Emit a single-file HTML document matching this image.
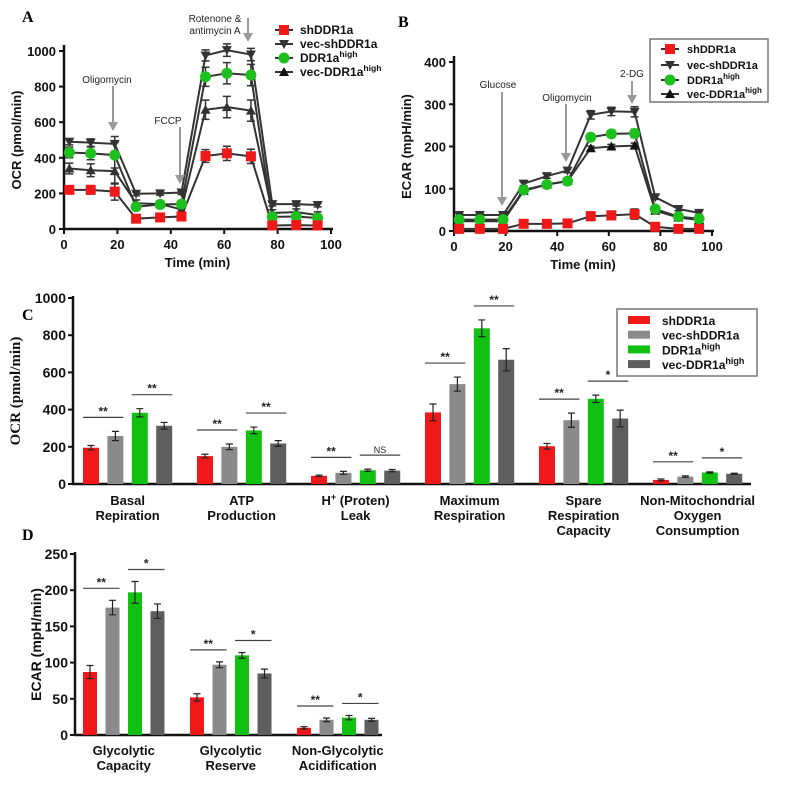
<!DOCTYPE html>
<html><head><meta charset="utf-8">
<style>
body{margin:0;background:#fff;}
svg{display:block;font-family:"Liberation Sans",Arial,sans-serif;}
.tk{font-size:13px;font-weight:bold;fill:#111;}
.ann{font-size:10px;fill:#222;}
.lbl{font-family:"Liberation Serif",serif;font-weight:bold;font-size:16px;}
</style></head>
<body>
<svg id="fig" width="787" height="786" viewBox="0 0 787 786" xmlns="http://www.w3.org/2000/svg"></svg>
<script>
// ---------- data ----------
const seriesNames = ["shDDR1a","vec-shDDR1a","DDR1a","vec-DDR1a"];
const timeA = [2,10,19,27,36,44,53,61,70,78,87,95];
const ocrSh = [220,220,210,58,65,70,410,425,408,20,22,20];
const ocrVecSh = [490,485,478,198,200,205,975,1005,980,140,140,135];
const ocrHigh = [430,425,415,125,138,140,855,875,865,68,70,62];
const ocrVecHigh = [340,330,325,145,140,110,670,685,665,90,95,78];
const ocrErr = [25,30,60,15,15,15,45,50,50,15,15,15];
const timeB = [2,10,19,27,36,44,53,61,70,78,87,95];
const ecarSh = [5,5,5,17,17,18,35,37,40,10,5,5];
const ecarVecSh = [38,38,38,112,130,143,275,283,282,80,52,43];
const ecarHigh = [27,27,27,97,110,118,222,230,231,52,34,29];
const ecarVecHigh = [23,23,23,95,110,118,196,200,202,48,32,26];
const ecarErr = [4,4,4,5,5,5,10,10,12,5,4,4];
const catsC = [["Basal","Repiration"],["ATP","Production"],["H+ (Proten)","Leak"],["Maximum","Respiration"],["Spare","Respiration","Capacity"],["Non-Mitochondrial","Oxygen","Consumption"]];
const cSh = [195,150,44,385,203,22];
const cVecSh = [258,200,60,537,343,40];
const cHigh = [383,288,74,837,458,62];
const cVecHigh = [313,218,72,668,352,55];
const cErrSh = [12,10,4,45,15,5];
const cErrVecSh = [25,15,8,38,38,4];
const cErrHigh = [22,18,6,45,20,3];
const cErrVecHigh = [18,15,6,60,45,3];
const cSig1 = ["**","**","**","**","**","**"];
const cSig2 = ["**","**","NS","**","*","*"];
const ticksC = [0,200,400,600,800,1000];
const catsD = [["Glycolytic","Capacity"],["Glycolytic","Reserve"],["Non-Glycolytic","Acidification"]];
const dSh = [87,52,10];
const dVecSh = [176,97,21];
const dHigh = [197,110,24];
const dVecHigh = [171,85,21];
const dErrSh = [9,5,1.5];
const dErrVecSh = [10,4,2.5];
const dErrHigh = [15,4,3];
const dErrVecHigh = [10,6,2];
const dSig1 = ["**","**","**"];
const dSig2 = ["*","*","*"];
const ticksD = [0,50,100,150,200,250];
const ticksA = [0,200,400,600,800,1000];
const ticksB = [0,100,200,300,400];
const ticksX = [0,20,40,60,80,100];

const NS="http://www.w3.org/2000/svg";
const svg=document.getElementById('fig');
function el(tag,attrs,parent,text){const e=document.createElementNS(NS,tag);for(const k in attrs)e.setAttribute(k,attrs[k]);if(text!==undefined)e.textContent=text;(parent||svg).appendChild(e);return e;}
function grp(name){const g=el('g',{});


return g;}

function marker(g,type,x,y,color){
  let m;
  if(type==='sq') m=el('rect',{x:x-5,y:y-5,width:10,height:10,fill:color},g);
  else if(type==='ci') m=el('circle',{cx:x,cy:y,r:5.5,fill:color},g);
  else if(type==='dn') m=el('polygon',{points:`${x-5},${y-4} ${x+5},${y-4} ${x},${y+5}`,fill:color},g);
  else m=el('polygon',{points:`${x-5},${y+4} ${x+5},${y+4} ${x},${y-5}`,fill:color},g);
  
  
}

function lineChart(name,x0,x1,y0,y1,ymax,yticks,series,errs,times,title){
  const g=grp(name);
  const sx=t=>x0+(x1-x0)*t/100, sy=v=>y0-(y0-y1)*v/ymax;
  el('line',{x1:x0,y1:y0+1,x2:x0,y2:y1-6,stroke:'#111','stroke-width':2.5},g);
  el('line',{x1:x0-1,y1:y0,x2:x1+2,y2:y0,stroke:'#111','stroke-width':2.5},g);
  yticks.forEach(t=>{el('line',{x1:x0-5,x2:x0,y1:sy(t),y2:sy(t),stroke:'#111','stroke-width':2},g);
    el('text',{x:x0-8,y:sy(t)+5,'text-anchor':'end',class:'tk'},g,t);});
  ticksX.forEach(t=>{el('line',{x1:sx(t),x2:sx(t),y1:y0,y2:y0+5,stroke:'#111','stroke-width':2},g);
    el('text',{x:sx(t),y:y0+20,'text-anchor':'middle',class:'tk'},g,t);});
  el('text',{x:(x0+x1)/2,y:y0+38,'text-anchor':'middle',class:'tk'},g,'Time (min)');
  el('text',{x:0,y:0,'text-anchor':'middle',class:'tk',transform:`translate(${x0-43},${(y0+y1)/2}) rotate(-90)`},g,title);
  series.forEach(s=>{
    const pts=s.vals.map((v,i)=>sx(times[i])+','+sy(v)).join(' ');
    el('polyline',{points:pts,fill:'none',stroke:'#333','stroke-width':2},g);
    s.vals.forEach((v,i)=>{const e=errs[i]*s.ef;const x=sx(times[i]);
      el('path',{d:`M${x},${sy(v-e)}V${sy(v+e)}M${x-4},${sy(v-e)}h8M${x-4},${sy(v+e)}h8`,stroke:'#333','stroke-width':1.5,fill:'none'},g);});
  });
  series.forEach(s=>s.vals.forEach((v,i)=>marker(g,s.m,sx(times[i]),sy(v),s.c)));
  return g;
}
const RED='#f01818',GR='#1ec01e',DK='#333';
lineChart('panel-a-ocr-chart',64,331,229,51,1000,ticksA,[
 {vals:ocrVecHigh,m:'up',c:DK,ef:1.2},{vals:ocrVecSh,m:'dn',c:DK,ef:0.7},{vals:ocrHigh,m:'ci',c:GR,ef:1.2},{vals:ocrSh,m:'sq',c:RED,ef:0.8}],ocrErr,timeA,'OCR (pmol/min)');
lineChart('panel-b-ecar-chart',454,712,231,62,400,ticksB,[
 {vals:ecarVecHigh,m:'up',c:'#111',ef:0.5},{vals:ecarVecSh,m:'dn',c:DK,ef:1},{vals:ecarHigh,m:'ci',c:GR,ef:0.8},{vals:ecarSh,m:'sq',c:RED,ef:1}],ecarErr,timeB,'ECAR (mpH/min)');

function arrow(x,ya,yb,g){el('line',{x1:x,y1:ya,x2:x,y2:yb-7,stroke:'#999','stroke-width':2},g);
  el('polygon',{points:`${x-5},${yb-9} ${x+5},${yb-9} ${x},${yb}`,fill:'#999'},g);}
function ann(name,lines,cx,cy,ax,ya,yb){const g=grp(name);lines.forEach((l,i)=>el('text',{x:cx,y:cy+i*12,'text-anchor':'middle',class:'ann'},g,l));arrow(ax,ya,yb,g);}
ann('oligomycin-annotation-a',['Oligomycin'],107,83,113,86,131);
ann('fccp-annotation',['FCCP'],168,124,180,127,184);
ann('rotenone-annotation',['Rotenone &','antimycin A'],215,22,248,18,42);
ann('glucose-annotation',['Glucose'],498,88,502,92,206);
ann('oligomycin-annotation-b',['Oligomycin'],567,101,566,104,162);
ann('2dg-annotation',['2-DG'],632,77,632,81,104);

function legendLine(name,x,ys,mx,tx,fs){const g=grp(name);
  const ms=['sq','dn','ci','up'],cs=[RED,DK,GR,'#111'];
  ys.forEach((y,i)=>{el('line',{x1:mx-9,x2:mx+9,y1:y,y2:y,stroke:'#333','stroke-width':2},g);marker(g,ms[i],mx,y,cs[i]);
    const t=el('text',{x:tx,y:y+4,class:'tk'},g,i>=2?(i==2?'DDR1a':'vec-DDR1a'):seriesNames[i]);
    t.setAttribute('style','font-size:'+fs+'px');
    if(i>=2)el('tspan',{dy:-5,'font-size':fs*0.72},t,'high');});
  return g;}
legendLine('legend-a',0,[30,44,58,72],284,300,12);
const lb=legendLine('legend-b',0,[49,65,80,94],670,687,11);
el('rect',{x:650,y:39,width:118,height:63,fill:'none',stroke:'#777','stroke-width':1.5},lb);

function barChart(name,x0,x1,y0,y1,ymax,yticks,cats,vals,errs,sig1,sig2,firstC,gsp,bsp,bw,title,serif,labY,titleOff){
  const g=grp(name);const sy=v=>y0-(y0-y1)*v/ymax;const cols=[RED,'#8a8a8a','#12c012','#5e5e5e'];
  el('line',{x1:x0,y1:y0+1,x2:x0,y2:y1-2,stroke:'#111','stroke-width':2.5},g);
  el('line',{x1:x0-1,y1:y0,x2:x1,y2:y0,stroke:'#111','stroke-width':2.5},g);
  yticks.forEach(t=>{el('line',{x1:x0-5,x2:x0,y1:sy(t),y2:sy(t),stroke:'#111','stroke-width':2},g);
    el('text',{x:x0-7,y:sy(t)+5,'text-anchor':'end',class:'tk','style':'font-size:14px'},g,t);});
  const tt=el('text',{x:0,y:0,'text-anchor':'middle',class:'tk',transform:`translate(${x0-titleOff},${(y0+y1)/2}) rotate(-90)`},g,title);
  if(serif)tt.setAttribute('style','font-family:"Liberation Serif",serif;font-size:15px');
  else tt.setAttribute('style','font-size:14px');
  cats.forEach((c,gi)=>{
    const gc=firstC+gi*gsp;
    vals.forEach((arr,si)=>{const x=gc+si*bsp,v=arr[gi],e=errs[si][gi];
      const b=el('rect',{x:x-bw/2,y:sy(v),width:bw,height:y0-sy(v),fill:cols[si]},g);
      
      
      el('path',{d:`M${x},${sy(v-e)}V${sy(v+e)}M${x-3.5},${sy(v-e)}h7M${x-3.5},${sy(v+e)}h7`,stroke:'#222','stroke-width':1.2,fill:'none'},g);});
    [[0,1,sig1],[2,3,sig2]].forEach(([a,b,s])=>{
      const top=Math.max(vals[a][gi]+errs[a][gi],vals[b][gi]+errs[b][gi]);const y=sy(top)-8-(ymax>500?6:4);
      el('line',{x1:gc+a*bsp-bw/2,x2:gc+b*bsp+bw/2,y1:y,y2:y,stroke:'#444','stroke-width':1.2},g);
      el('text',{x:gc+(a+b)*bsp/2,y:y-2,'text-anchor':'middle','font-size':s[gi]=='NS'?9:12,fill:'#222','font-weight':s[gi]=='NS'?'normal':'bold'},g,s[gi]);});
    const lc=gc+1.5*bsp;
    c.forEach((l,li)=>{const t=el('text',{x:lc,y:labY+li*15,'text-anchor':'middle',class:'tk'},g,l);
      if(l.startsWith('H+')){t.textContent='H';el('tspan',{dy:-5,'font-size':9},t,'+');el('tspan',{dy:5},t,' (Proten)');}});
  });
  return g;
}
barChart('panel-c-ocr-bars',73,751,484,298,1000,ticksC,catsC,[cSh,cVecSh,cHigh,cVecHigh],[cErrSh,cErrVecSh,cErrHigh,cErrVecHigh],cSig1,cSig2,91,114,24.4,16,'OCR (pmol/min)',true,505,53);
barChart('panel-d-ecar-bars',75,382,735,554,250,ticksD,catsD,[dSh,dVecSh,dHigh,dVecHigh],[dErrSh,dErrVecSh,dErrHigh,dErrVecHigh],dSig1,dSig2,90,107,22.5,14,'ECAR (mpH/min)',false,755,34);

// legend C
const lc=grp('legend-c');
el('rect',{x:617,y:309,width:140,height:67,fill:'#fff',stroke:'#777','stroke-width':1.5},lc);
[RED,'#8a8a8a','#12c012','#5e5e5e'].forEach((c,i)=>{const y=320+i*14.7;
  el('rect',{x:628,y:y-4,width:22,height:8,fill:c},lc);
  const t=el('text',{x:662,y:y+5,'font-size':12,'font-weight':'bold',fill:'#111'},lc,['shDDR1a','vec-shDDR1a','DDR1a','vec-DDR1a'][i]);
  if(i>=2)el('tspan',{dy:-5,'font-size':9},t,'high');});

// panel letters
[['A',22,22],['B',398,27],['C',22,320],['D',22,540]].forEach(([l,x,y])=>{const t=el('text',{x:x,y:y,class:'lbl'},svg,l);
  
  });
</script>
</body></html>
